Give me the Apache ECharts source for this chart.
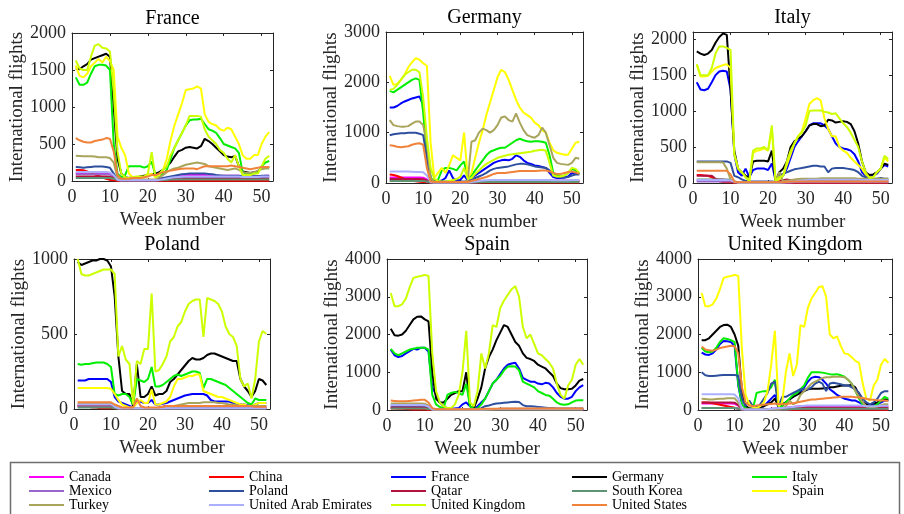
<!DOCTYPE html>
<html>
<head>
<meta charset="utf-8">
<script src="https://cdn.jsdelivr.net/npm/echarts@6/dist/echarts.min.js"></script>
<style>
  html, body { margin: 0; padding: 0; background: #fff; }
  #chart { width: 904px; height: 514px; }
</style>
</head>
<body>
<div id="chart"></div>
<script>
// Week numbers (x values shared by every line)
const weeks = [1,2,3,4,5,6,7,8,9,10,11,12,13,14,15,16,17,18,19,20,21,22,23,24,25,26,
  27,28,29,30,31,32,33,34,35,36,37,38,39,40,41,42,43,44,45,46,47,48,49,50,51,52];

const countryNames = ['Canada','China','France','Germany','Italy','Mexico','Poland','Qatar',
  'South Korea','Spain','Turkey','United Arab Emirates','United Kingdom','United States'];
const countryColors = ['#ff00ff','#ff0000','#0000ff','#000000','#00ee00','#9966cc','#2e4f9e','#b3123f',
  '#5e9373','#ffff00','#aaa55c','#aab0ff','#ccff00','#f0823a'];

const panelTitles = ['France','Germany','Italy','Poland','Spain','United Kingdom'];
const panelYMax = [2000, 3000, 2100, 1000, 4000, 4000];
const panelYStep = [500, 1000, 500, 500, 1000, 1000];

// ---- France ----
const frCanada = [100,100,100,100,100,100,100,100,100,95, 60,15,10,10,10,10,10,10,10,10, 10,10,15,20,30,40,55,65,75,80, 80,80,80,80,80,75,70,70,70,70, 70,70,70,70,65,60,60,60,60,65, 70,70];
const frChina = [150,150,145,130,110,90,70,50,30,15, 10,5,5,5,5,5,5,5,5,5, 5,5,5,5,5,5,5,5,5,5, 5,5,5,5,5,5,5,5,5,5, 5,5,5,5,5,5,5,5,5,5, 5,5];
const frGermany = [1520,1510,1550,1580,1640,1660,1680,1700,1720,1680, 1000,300,100,50,40,50,50,60,70,80, 90,100,120,150,200,250,330,400,420,450, 460,450,440,470,570,540,500,450,400,350, 330,320,340,200,130,120,110,120,130,180, 190,190];
const frItaly = [1400,1300,1300,1330,1450,1550,1570,1570,1560,1500, 500,100,50,80,200,200,200,200,180,200, 260,80,70,100,150,300,450,550,650,750, 820,830,830,840,770,700,680,650,580,500, 480,460,440,380,120,100,100,100,110,200, 250,270];
const frMexico = [90,90,90,90,90,90,90,90,90,85, 50,15,10,10,10,10,10,10,10,10, 10,10,15,20,25,30,35,40,45,50, 55,55,55,55,55,55,50,50,50,50, 50,50,50,50,45,45,45,45,50,50, 55,55];
const frPoland = [190,185,180,185,190,195,195,195,190,180, 100,20,10,10,10,10,10,10,10,10, 10,10,30,40,50,60,70,80,90,95, 100,100,100,100,100,95,90,80,75,70, 70,70,70,70,65,65,65,65,65,70, 70,70];
const frQatar = [60,60,60,60,60,60,60,60,60,55, 40,20,15,15,15,15,15,15,15,15, 15,15,15,20,20,25,25,25,25,30, 30,30,30,30,30,30,30,30,30,30, 30,30,30,30,30,30,30,30,30,30, 30,30];
const frSKorea = [40,40,40,40,40,40,40,40,40,40, 30,15,10,10,10,10,10,10,10,10, 10,10,10,15,15,20,20,20,20,20, 20,20,20,20,20,20,20,20,20,20, 20,20,20,20,20,20,20,20,20,20, 20,20];
const frSpain = [1560,1420,1400,1450,1550,1600,1650,1600,1680,1620, 1500,600,450,350,100,50,40,40,50,80, 100,50,80,150,300,550,750,900,1050,1230, 1240,1250,1280,1250,900,800,770,750,700,680, 720,700,600,500,350,300,300,350,350,500, 600,660];
const frTurkey = [340,338,335,335,335,330,320,320,320,310, 250,40,20,20,20,20,20,20,20,20, 20,20,50,80,120,150,170,180,200,220, 230,240,250,240,230,200,190,180,170,160, 150,160,170,150,120,110,110,120,140,160, 170,170];
const frUAE = [120,120,120,120,120,120,120,120,120,115, 80,15,10,10,10,10,10,10,10,10, 10,10,15,25,35,45,50,55,60,60, 60,60,60,60,60,60,60,60,60,60, 60,60,60,60,55,55,55,55,55,60, 60,60];
const frUK = [1630,1520,1500,1500,1680,1830,1850,1800,1790,1750, 1200,400,100,50,40,50,60,60,60,100, 390,50,100,150,200,350,450,550,650,750, 880,880,880,870,700,600,550,500,420,380, 300,250,350,200,80,80,80,100,100,200, 300,340];
const frUS = [580,550,530,520,520,540,550,560,580,570, 400,80,30,30,30,40,40,40,50,60, 80,80,100,120,130,140,150,160,165,170, 170,170,160,180,200,200,200,200,200,200, 200,210,200,190,180,170,160,170,180,190, 190,190];

// ---- Germany ----
const deCanada = [110,110,110,110,110,110,110,110,110,105, 70,20,15,15,15,15,15,15,15,15, 15,15,20,25,30,35,40,45,50,55, 55,55,55,55,55,55,55,55,55,55, 55,55,55,55,50,50,50,50,50,50, 50,50];
const deChina = [170,160,140,110,80,60,45,35,25,20, 15,10,10,10,10,10,10,10,10,10, 10,10,10,10,10,10,10,10,10,10, 10,10,10,10,10,10,10,10,10,10, 10,10,10,10,10,10,10,10,10,10, 10,10];
const deFrance = [1500,1500,1530,1580,1620,1650,1680,1700,1720,1550, 800,100,30,30,50,100,250,100,50,60, 150,50,100,150,200,250,300,350,400,430, 450,460,450,480,550,520,450,400,380,350, 340,320,300,200,120,100,100,110,130,200, 200,180];
const deItaly = [1830,1800,1850,1900,1950,2000,2050,2080,2050,1400, 500,100,50,60,250,300,300,280,250,350, 430,100,150,250,350,450,550,620,650,680, 700,700,750,800,850,880,850,830,820,830, 830,820,800,550,200,150,130,150,200,280, 250,180];
const deMexico = [50,50,50,50,50,50,50,50,50,50, 30,10,10,10,10,10,10,10,10,10, 10,10,10,15,20,25,25,30,30,30, 30,30,30,30,30,30,30,30,30,30, 30,30,30,30,30,30,30,30,30,30, 30,30];
const dePoland = [950,970,980,990,990,1000,1000,1000,980,950, 500,50,30,30,30,30,30,30,30,30, 30,30,60,100,130,160,200,250,280,300, 310,320,330,350,370,380,380,370,350,330, 320,310,300,250,150,120,110,110,120,150, 170,170];
const deQatar = [80,80,80,80,80,80,80,80,80,75, 50,25,20,20,20,20,20,20,20,20, 20,20,25,30,35,40,40,40,40,40, 40,40,40,40,40,40,40,40,40,40, 40,40,40,40,40,40,40,40,40,40, 40,40];
const deSKorea = [40,40,40,40,40,40,40,40,40,40, 30,15,10,10,10,10,10,10,10,10, 10,10,10,15,15,20,20,20,20,20, 20,20,20,20,20,20,20,20,20,20, 20,20,20,20,20,20,20,20,20,20, 20,20];
const deSpain = [2130,1950,1970,2050,2150,2300,2400,2480,2450,2380, 2330,800,100,200,300,200,350,550,500,450, 1000,100,200,500,800,1050,1350,1600,1850,2100, 2250,2200,2050,1850,1650,1500,1400,1350,1300,1200, 1150,1050,1000,800,650,600,580,560,560,680, 800,820];
const deTurkey = [1250,1150,1130,1120,1120,1130,1180,1220,1220,1150, 800,100,20,20,20,20,20,20,20,20, 20,50,820,850,1000,1080,1050,1000,1050,1150, 1300,1320,1250,1220,1380,1200,1050,950,920,900, 950,1100,1000,750,500,400,380,370,360,400, 500,480];
const deUAE = [230,230,230,230,230,230,225,220,220,215, 150,20,10,10,10,10,10,10,10,10, 10,10,20,30,40,50,55,60,60,60, 60,60,60,60,60,60,60,60,60,60, 60,60,60,60,55,55,55,55,55,60, 60,60];
const deUK = [1850,1870,1950,2050,2150,2200,2250,2250,2200,1700, 900,300,80,40,30,30,40,60,80,120, 300,80,100,180,250,320,380,420,460,500, 520,540,560,570,580,590,600,610,620,640, 650,660,640,400,150,130,130,150,200,300, 280,200];
const deUS = [750,740,720,710,720,730,760,780,790,760, 300,30,20,20,20,20,20,20,20,20, 20,20,40,60,80,100,120,150,180,200, 200,200,210,220,230,240,240,240,240,240, 245,250,250,230,200,180,180,200,220,230, 210,180];

// ---- Italy ----
const itCanada = [30,30,30,30,30,30,30,30,30,25, 15,5,5,5,5,5,5,5,5,5, 5,5,5,8,10,12,15,15,15,15, 15,15,15,15,15,15,15,15,15,15, 15,15,15,15,15,15,15,15,15,15, 15,15];
const itChina = [110,110,105,100,80,50,25,15,10,10, 5,5,5,5,5,5,5,5,5,5, 5,5,5,5,5,5,5,5,5,5, 5,5,5,5,5,5,5,5,5,5, 5,5,5,5,5,5,5,5,5,5, 5,5];
const itFrance = [1400,1300,1290,1310,1400,1500,1550,1560,1550,1300, 400,150,100,200,80,180,200,200,200,180, 270,30,50,100,200,350,500,580,650,720, 800,830,830,830,800,750,650,550,500,480, 470,450,400,300,150,100,90,100,130,200, 250,230];
const itGermany = [1830,1800,1780,1800,1850,1950,2030,2080,2060,1300, 450,200,150,100,80,300,310,310,310,300, 450,30,150,200,300,500,580,620,650,720, 800,820,820,790,800,880,870,840,850,860, 850,820,720,550,300,150,110,120,150,200, 270,250];
const itMexico = [20,20,20,20,20,20,20,20,20,20, 10,5,5,5,5,5,5,5,5,5, 5,5,5,5,5,8,10,10,10,10, 10,10,10,10,10,10,10,10,10,10, 10,10,10,10,10,10,10,10,10,10, 10,10];
const itPoland = [300,300,300,300,300,300,300,300,300,280, 100,80,50,30,20,20,20,20,20,20, 20,10,100,130,150,170,190,200,210,220, 230,240,240,230,230,150,200,210,210,210, 200,190,180,150,100,80,60,60,60,70, 60,60];
const itQatar = [100,100,100,100,100,60,50,50,40,30, 10,5,5,5,5,5,5,5,5,5, 5,5,30,40,50,40,30,30,30,30, 30,30,30,30,30,30,30,30,30,30, 30,30,30,30,30,30,30,30,30,30, 30,30];
const itSKorea = [50,50,50,50,50,50,50,50,50,45, 20,5,5,5,5,5,5,5,5,5, 5,5,5,10,15,20,25,30,35,40, 45,50,50,50,50,50,50,50,50,50, 50,50,50,50,50,50,50,50,50,50, 50,50];
const itSpain = [1650,1480,1480,1490,1550,1600,1620,1640,1650,1600, 400,200,150,80,30,420,450,460,480,450, 750,30,50,100,250,400,550,650,720,900, 1100,1150,1180,1150,900,750,650,650,500,450, 420,350,300,250,200,120,80,80,150,200, 350,300];
const itTurkey = [290,290,290,290,290,290,290,285,200,50, 10,10,10,10,10,10,10,10,10,10, 10,10,150,20,30,40,50,55,60,60, 60,60,60,65,65,65,65,65,65,65, 65,65,65,60,60,60,60,60,60,60, 60,60];
const itUAE = [40,40,40,40,40,40,40,40,40,35, 20,5,5,5,5,5,5,5,5,5, 5,5,5,10,15,20,25,30,35,40, 45,45,45,45,45,45,45,45,45,45, 45,45,45,45,40,40,40,40,40,40, 40,40];
const itUK = [1650,1500,1500,1500,1600,1800,1900,1900,1880,1850, 400,200,150,80,30,450,480,480,500,450, 800,30,80,100,300,450,550,650,700,800, 1000,1010,1010,1010,990,980,960,970,900,830, 780,700,600,500,300,150,70,80,150,200, 380,330];
const itUS = [170,170,170,170,170,170,170,170,170,120, 20,10,10,10,10,10,10,10,10,10, 10,10,10,10,15,20,20,20,20,20, 20,20,20,20,20,20,20,20,20,20, 20,20,20,20,20,20,20,20,20,20, 20,20];

// ---- Poland ----
const plCanada = [20,20,20,20,20,20,20,20,20,20, 10,5,5,5,5,5,5,5,5,5, 5,5,5,5,5,5,8,10,10,10, 10,10,10,10,10,10,10,10,10,10, 10,10,10,10,10,10,10,10,10,10, 10,10];
const plChina = [20,20,20,15,10,10,5,5,5,5, 5,5,5,5,5,5,5,5,5,5, 5,5,5,5,5,5,5,5,5,5, 5,5,5,5,5,5,5,5,5,5, 5,5,5,5,5,5,5,5,5,5, 5,5];
const plFrance = [190,190,190,200,200,200,200,200,200,180, 80,50,40,30,20,10,50,50,40,40, 60,30,30,35,40,50,60,70,80,90, 95,100,100,100,100,90,60,50,50,50, 50,50,40,35,30,30,25,20,30,40, 40,40];
const plGermany = [980,960,970,980,990,990,1000,1000,990,950, 750,350,120,100,100,20,300,80,80,100, 150,90,100,100,120,180,200,230,260,290, 320,340,330,330,340,360,370,370,360,350, 340,330,320,320,200,150,120,80,120,200, 190,160];
const plItaly = [300,295,300,300,305,310,310,310,300,280, 100,90,100,100,80,30,200,190,180,200, 280,150,150,160,180,200,220,230,220,230, 240,250,250,240,140,200,200,190,180,170, 160,140,120,100,80,60,40,30,70,60, 60,60];
const plMexico = [15,15,15,15,15,15,15,15,15,15, 10,5,5,5,5,5,5,5,5,5, 5,5,5,5,5,5,5,5,5,5, 5,5,5,5,5,5,5,5,5,5, 5,5,5,5,5,5,5,5,5,5, 5,5];
const plQatar = [25,25,25,25,25,25,25,25,25,25, 15,5,5,5,5,5,5,5,5,5, 5,5,10,15,20,20,20,20,20,20, 20,20,20,20,20,20,20,20,20,20, 20,20,20,20,20,20,20,20,20,20, 20,20];
const plSKorea = [10,10,10,10,10,10,10,10,10,10, 5,3,3,3,3,3,3,3,3,3, 3,3,3,3,3,3,3,3,3,3, 3,3,3,3,3,3,3,3,3,3, 3,3,3,3,3,3,3,3,3,3, 3,3];
const plSpain = [140,140,140,140,140,140,140,140,140,135, 100,60,30,20,10,10,40,60,40,40, 130,30,30,40,50,80,150,200,200,210, 220,220,230,230,120,110,100,90,80,80, 70,60,50,40,30,30,20,20,30,40, 40,40];
const plTurkey = [40,40,40,40,40,40,40,40,40,40, 20,5,5,5,5,5,5,5,5,5, 5,5,5,5,10,15,20,25,30,35, 40,40,40,40,45,45,45,45,40,40, 35,30,30,25,20,20,20,20,20,20, 20,20];
const plUAE = [30,30,30,30,30,30,30,30,30,30, 15,5,5,5,5,5,5,5,5,5, 5,5,5,5,5,5,5,5,5,5, 5,5,5,5,5,5,5,5,5,5, 5,5,5,5,5,5,5,5,5,5, 5,5];
const plUK = [1000,900,890,890,900,910,920,930,930,930, 900,350,420,330,300,30,320,300,400,400, 770,250,260,300,350,450,480,550,580,650, 700,720,730,730,480,740,730,720,700,650, 550,500,480,420,200,150,170,70,200,450, 520,500];
const plUS = [45,45,45,45,45,45,45,45,45,45, 30,20,10,10,10,10,70,20,10,10, 10,10,10,15,20,20,20,20,20,20, 20,20,20,20,20,20,20,20,20,20, 20,20,20,20,20,20,20,20,15,15, 15,15];

// ---- Spain ----
const esCanada = [60,60,60,60,60,60,60,60,60,60, 40,10,5,5,5,5,5,5,5,5, 5,5,5,5,5,5,5,5,5,5, 5,5,5,5,5,5,5,5,5,5, 5,5,5,5,5,5,5,5,5,5, 5,5];
const esChina = [40,40,35,30,25,20,15,10,10,10, 5,5,5,5,5,5,5,5,5,5, 5,5,5,5,5,5,5,5,5,5, 5,5,5,5,5,5,5,5,5,5, 5,5,5,5,5,5,5,5,5,5, 5,5];
const esFrance = [1600,1450,1400,1430,1500,1560,1620,1600,1650,1650, 1550,600,400,200,100,50,40,40,50,150, 200,100,30,100,200,300,500,700,800,950, 1100,1200,1230,1250,1100,850,800,750,750,700, 680,720,700,600,450,350,300,300,350,500, 600,660];
const esGermany = [2150,1980,1970,2000,2100,2250,2400,2470,2480,2400, 2350,1000,300,200,200,300,400,450,500,500, 1000,100,50,300,600,1100,1400,1600,1850,2050, 2250,2200,2000,1800,1700,1500,1380,1350,1300,1200, 1150,1100,1000,900,700,580,550,550,560,650, 780,820];
const esItaly = [1620,1500,1450,1500,1550,1600,1620,1650,1650,1650, 1600,400,150,80,50,400,450,480,450,400, 700,100,30,50,150,300,500,700,800,900, 1050,1150,1160,1150,1050,750,700,650,600,500, 450,400,380,300,200,150,140,150,200,250, 260,260];
const esMexico = [90,90,90,90,90,90,90,90,90,90, 60,15,10,10,10,10,10,10,10,10, 10,10,10,10,10,15,15,20,20,20, 20,20,20,20,20,20,20,20,20,20, 20,20,20,20,20,20,20,20,20,20, 20,20];
const esPoland = [120,120,120,120,120,120,120,120,120,115, 100,30,20,20,20,20,20,20,20,20, 20,20,20,30,50,100,120,150,170,180, 190,200,210,220,210,130,100,100,90,80, 70,60,50,50,40,40,40,40,40,40, 40,40];
const esQatar = [60,60,60,60,60,60,60,60,60,60, 40,15,10,10,10,10,10,10,10,10, 10,10,10,15,20,20,20,20,20,20, 20,20,20,20,20,20,20,20,20,20, 20,20,20,20,20,20,20,20,20,20, 20,20];
const esSKorea = [40,40,40,40,40,40,40,40,40,40, 25,10,5,5,5,5,5,5,5,5, 5,5,5,5,5,5,5,5,5,5, 5,5,5,5,5,5,5,5,5,5, 5,5,5,5,5,5,5,5,5,5, 5,5];
const esTurkey = [170,170,170,170,170,170,170,170,170,165, 120,20,10,10,10,10,10,10,10,10, 10,10,10,10,10,15,20,20,25,25, 30,30,30,30,30,30,30,30,30,30, 30,30,30,30,30,30,30,30,30,30, 30,30];
const esUAE = [130,130,130,130,130,130,130,130,130,125, 90,15,10,10,10,10,10,10,10,10, 10,10,10,10,15,20,20,25,25,30, 30,30,30,30,30,30,30,30,30,30, 30,30,30,30,30,30,30,30,30,30, 30,30];
const esUK = [3100,2750,2750,2800,2950,3250,3500,3530,3550,3580, 3550,1500,500,200,100,50,50,150,400,1000, 2100,200,100,500,1500,1100,1500,2250,2200,2700, 2900,3050,3200,3280,3000,2200,1900,2000,1750,1500, 1450,1350,1250,1100,700,400,300,650,800,1200, 1350,1200];
const esUS = [250,240,230,230,230,240,250,260,270,270, 200,50,20,20,20,20,20,20,20,20, 20,20,20,20,25,30,30,35,35,40, 40,40,40,40,40,40,40,40,40,40, 40,40,40,40,40,40,40,40,40,40, 40,40];

// ---- United Kingdom ----
const ukCanada = [170,170,170,170,170,170,170,170,170,165, 120,20,10,10,10,10,10,10,20,30, 40,50,50,60,70,80,90,100,100,100, 100,100,100,100,100,100,100,100,100,100, 100,100,100,100,90,80,80,80,80,90, 90,90];
const ukChina = [200,200,190,180,160,140,120,100,80,60, 30,10,5,5,5,5,5,5,5,5, 5,5,5,5,5,5,5,5,5,5, 5,5,5,5,5,5,5,5,5,5, 5,5,5,5,5,5,5,5,5,5, 5,5];
const ukFrance = [1520,1470,1460,1500,1600,1750,1830,1820,1800,1700, 650,150,50,30,30,50,80,100,200,300, 400,100,150,200,280,350,430,500,600,750, 850,880,870,800,700,550,480,400,350,300, 280,250,250,200,150,130,120,130,150,200, 250,250];
const ukGermany = [1850,1850,1900,2000,2100,2200,2250,2260,2200,2000, 1700,500,100,50,30,50,80,100,150,200, 300,80,150,200,280,350,400,450,500,550, 560,560,560,570,580,600,600,620,640,650, 650,660,600,400,200,150,150,180,200,250, 280,280];
const ukItaly = [1650,1550,1530,1550,1650,1800,1900,1880,1850,1800, 700,150,50,30,30,450,480,500,500,600, 800,100,100,200,300,400,450,550,650,850, 1000,1000,1000,990,970,950,940,950,920,880, 800,700,500,300,150,100,80,100,150,250, 350,300];
const ukMexico = [50,50,50,50,50,50,50,50,50,50, 35,10,5,5,5,5,5,5,5,5, 5,5,10,15,20,25,30,35,40,40, 40,40,40,40,40,40,40,40,40,40, 40,40,40,40,40,40,40,40,40,40, 40,40];
const ukPoland = [1000,920,900,900,910,920,930,930,930,930, 900,300,100,250,100,80,150,300,450,700, 750,100,350,350,400,450,500,550,550,550, 600,700,750,700,500,700,720,700,680,650, 650,600,550,450,300,200,150,200,300,450, 500,500];
const ukQatar = [200,200,200,200,200,200,200,200,200,195, 130,20,10,10,10,10,10,10,15,20, 25,30,30,35,40,45,50,55,60,60, 60,60,60,60,60,60,60,60,60,60, 60,60,60,60,60,60,60,60,60,60, 60,60];
const ukSKorea = [50,50,50,50,50,50,50,50,50,50, 40,15,10,10,10,10,10,10,10,10, 10,10,10,15,20,25,30,30,30,30, 30,30,30,30,30,30,30,30,30,30, 30,30,30,30,30,30,30,30,30,30, 30,30];
const ukSpain = [3100,2750,2750,2800,2950,3200,3500,3530,3550,3580, 3550,1600,400,150,80,50,100,200,500,1200, 2100,100,200,1000,1500,900,1200,2250,2200,2700, 2950,3100,3250,3280,3000,2000,1900,1950,1700,1500, 1480,1400,1300,1250,700,300,250,650,800,1200, 1350,1250];
const ukTurkey = [300,290,280,280,290,300,300,310,310,310, 200,20,20,20,20,20,20,20,20,20, 20,20,50,100,250,150,200,400,500,600, 700,750,800,850,870,870,880,880,880,870, 800,700,500,350,200,100,80,80,100,130, 150,150];
const ukUAE = [420,420,420,420,420,420,420,420,420,410, 300,30,10,10,10,10,10,10,20,30, 40,50,50,60,70,80,90,100,110,120, 120,120,120,120,120,120,120,120,120,120, 120,120,120,120,110,100,100,100,100,110, 110,110];
const ukUS = [1680,1600,1580,1570,1600,1640,1660,1680,1700,1690, 1500,600,200,120,100,120,130,140,150,160, 170,160,150,160,170,180,200,220,240,260, 280,280,290,300,310,320,330,340,350,350, 350,350,340,330,320,300,280,270,260,250, 250,240];

// Lines available in each panel (a panel never shows its own country)
const panelSeries = [
  {'Canada': frCanada, 'China': frChina, 'Germany': frGermany, 'Italy': frItaly, 'Mexico': frMexico,
   'Poland': frPoland, 'Qatar': frQatar, 'South Korea': frSKorea, 'Spain': frSpain, 'Turkey': frTurkey,
   'United Arab Emirates': frUAE, 'United Kingdom': frUK, 'United States': frUS},
  {'Canada': deCanada, 'China': deChina, 'France': deFrance, 'Italy': deItaly, 'Mexico': deMexico,
   'Poland': dePoland, 'Qatar': deQatar, 'South Korea': deSKorea, 'Spain': deSpain, 'Turkey': deTurkey,
   'United Arab Emirates': deUAE, 'United Kingdom': deUK, 'United States': deUS},
  {'Canada': itCanada, 'China': itChina, 'France': itFrance, 'Germany': itGermany, 'Mexico': itMexico,
   'Poland': itPoland, 'Qatar': itQatar, 'South Korea': itSKorea, 'Spain': itSpain, 'Turkey': itTurkey,
   'United Arab Emirates': itUAE, 'United Kingdom': itUK, 'United States': itUS},
  {'Canada': plCanada, 'China': plChina, 'France': plFrance, 'Germany': plGermany, 'Italy': plItaly,
   'Mexico': plMexico, 'Qatar': plQatar, 'South Korea': plSKorea, 'Spain': plSpain, 'Turkey': plTurkey,
   'United Arab Emirates': plUAE, 'United Kingdom': plUK, 'United States': plUS},
  {'Canada': esCanada, 'China': esChina, 'France': esFrance, 'Germany': esGermany, 'Italy': esItaly,
   'Mexico': esMexico, 'Poland': esPoland, 'Qatar': esQatar, 'South Korea': esSKorea, 'Turkey': esTurkey,
   'United Arab Emirates': esUAE, 'United Kingdom': esUK, 'United States': esUS},
  {'Canada': ukCanada, 'China': ukChina, 'France': ukFrance, 'Germany': ukGermany, 'Italy': ukItaly,
   'Mexico': ukMexico, 'Poland': ukPoland, 'Qatar': ukQatar, 'South Korea': ukSKorea, 'Spain': ukSpain,
   'Turkey': ukTurkey, 'United Arab Emirates': ukUAE, 'United States': ukUS}
];

// Plot-box placement of the six panels (px)
const gridBoxes = [
  {left: 72, top: 33, width: 201, height: 148},
  {left: 386, top: 32, width: 197, height: 151},
  {left: 693, top: 32, width: 199, height: 151},
  {left: 74, top: 259, width: 196, height: 150},
  {left: 387, top: 259, width: 200, height: 151},
  {left: 698, top: 259, width: 194, height: 151}
];

const SERIF = 'Liberation Serif, Times New Roman, serif';
const AXIS_COLOR = '#262626';
const plain = v => String(v);

const grids = [], xAxes = [], yAxes = [], series = [], graphics = [];

gridBoxes.forEach((g, i) => {
  grids.push(Object.assign({containLabel: false}, g));
  const tick = {show: true, inside: true, length: 3, lineStyle: {color: AXIS_COLOR, width: 1}};
  const line = {show: true, onZero: false, lineStyle: {color: AXIS_COLOR, width: 1}};
  const label = {fontFamily: SERIF, fontSize: 18, color: AXIS_COLOR, formatter: plain};
  // bottom / top x axes
  xAxes.push({
    type: 'value', gridIndex: i, min: 0, max: 53, interval: 10, position: 'bottom',
    axisLine: line, axisTick: tick, splitLine: {show: false},
    axisLabel: Object.assign({margin: 7, showMaxLabel: false}, label),
    name: 'Week number', nameLocation: 'middle', nameGap: 30,
    nameTextStyle: {fontFamily: SERIF, fontSize: 19, color: AXIS_COLOR}
  });
  xAxes.push({
    type: 'value', gridIndex: i, min: 0, max: 53, interval: 10, position: 'top',
    axisLine: line, axisTick: tick, splitLine: {show: false}, axisLabel: {show: false}
  });
  // left / right y axes
  const yLabel = Object.assign({margin: 6}, label);
  if (panelYMax[i] % panelYStep[i] !== 0) yLabel.showMaxLabel = false;
  yAxes.push({
    type: 'value', gridIndex: i, min: 0, max: panelYMax[i], interval: panelYStep[i], position: 'left',
    axisLine: line, axisTick: tick, splitLine: {show: false}, axisLabel: yLabel,
    name: 'International flights', nameLocation: 'middle', nameGap: 45, nameRotate: 90,
    nameTextStyle: {fontFamily: SERIF, fontSize: 19, color: AXIS_COLOR}
  });
  yAxes.push({
    type: 'value', gridIndex: i, min: 0, max: panelYMax[i], interval: panelYStep[i], position: 'right',
    axisLine: line, axisTick: tick, splitLine: {show: false}, axisLabel: {show: false}
  });

  // panel title
  graphics.push({
    type: 'text', x: g.left + g.width / 2, y: g.top - 14,
    style: {text: panelTitles[i], font: '20px ' + SERIF, fill: '#000',
            textAlign: 'center', textVerticalAlign: 'middle'}
  });

  // lines
  countryNames.forEach((name, c) => {
    const values = panelSeries[i][name];
    if (!values) return;
    series.push({
      type: 'line', name: name, xAxisIndex: 2 * i, yAxisIndex: 2 * i,
      data: weeks.map((w, k) => [w, values[k]]),
      symbol: 'none', showSymbol: false,
      lineStyle: {color: countryColors[c], width: 2},
      itemStyle: {color: countryColors[c]},
      emphasis: {disabled: true},
      clip: true
    });
  });
});

// Legend box
graphics.push({
  type: 'rect', shape: {x: 10.5, y: 462.5, width: 889, height: 60},
  style: {fill: 'none', stroke: '#6e6e6e', lineWidth: 1.5}, z: -1
});

// Five legend columns, entries run row by row in alphabetical order
const legendCols = [29, 209, 391, 572, 752];
const legends = legendCols.map((x, col) => ({
  orient: 'vertical', left: x, top: 470, height: 44, padding: 0, itemGap: 0,
  itemWidth: 35, itemHeight: 2, icon: 'rect',
  textStyle: {fontFamily: SERIF, fontSize: 14, color: '#000', lineHeight: 14},
  data: countryNames.filter((_, k) => k % 5 === col),
  selectedMode: false
}));

const chart = echarts.init(document.getElementById('chart'), null, {renderer: 'canvas'});
chart.setOption({
  animation: false,
  backgroundColor: '#fff',
  grid: grids,
  xAxis: xAxes,
  yAxis: yAxes,
  legend: legends,
  series: series,
  graphic: graphics
});
</script>
</body>
</html>
